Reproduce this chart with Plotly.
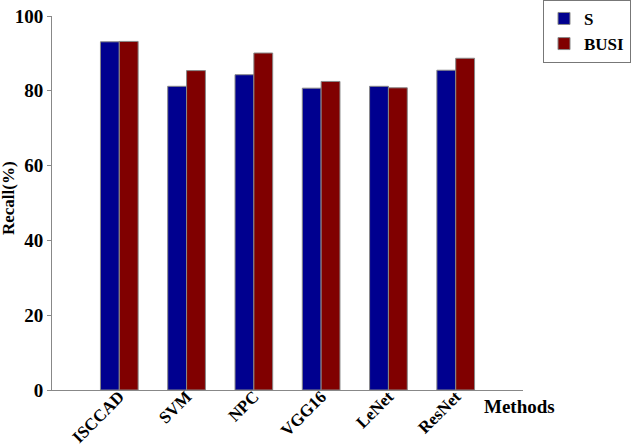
import plotly.graph_objects as go

methods = ["ISCCAD", "SVM", "NPC", "VGG16", "LeNet", "ResNet"]
s_vals = [93.1, 81.2, 84.3, 80.7, 81.2, 85.5]
busi_vals = [93.2, 85.4, 90.1, 82.5, 80.8, 88.7]
y_ticks = [0, 20, 40, 60, 80, 100]

FONT = "Liberation Serif, Times New Roman, serif"

fig = go.Figure()
fig.add_trace(go.Bar(x=list(range(len(methods))), y=s_vals, name="S",
                     marker=dict(color="#00008F", line=dict(color="#888888", width=1)),
                     width=0.28, offset=-0.28))
fig.add_trace(go.Bar(x=list(range(len(methods))), y=busi_vals, name="BUSI",
                     marker=dict(color="#800000", line=dict(color="#888888", width=1)),
                     width=0.28, offset=0.0))

fig.update_layout(
    width=633, height=448,
    margin=dict(l=52, r=110, t=16, b=58, autoexpand=False),
    plot_bgcolor="white", paper_bgcolor="white",
    font=dict(family=FONT, size=19, color="black", weight="bold"),
    showlegend=True,
    legend=dict(x=(631-52)/471, y=1.043, xanchor="right", yanchor="top",
                bordercolor="#777777", borderwidth=1,
                font=dict(family=FONT, size=17, weight="bold"),
                tracegroupgap=0, itemwidth=30),
    xaxis=dict(range=[-1, 6], tickmode="array", automargin=False,
               tickvals=list(range(len(methods))), ticktext=methods,
               tickangle=-45, showline=True, linecolor="#888888", linewidth=1,
               ticks="", showgrid=False, zeroline=False, ticklabelstandoff=-11,
               tickfont=dict(family=FONT, size=17, weight="bold")),
    yaxis=dict(range=[0, 100], tickvals=y_ticks, showline=True, automargin=False,
               linecolor="#888888", linewidth=1, ticks="outside", ticklen=4,
               tickcolor="#888888", showgrid=False, zeroline=False,
               tickfont=dict(family=FONT, size=19, weight="bold")),
    annotations=[
        dict(text="Methods", xref="paper", yref="paper",
             x=0.914, y=-0.043, xanchor="left", yanchor="middle",
             showarrow=False, font=dict(family=FONT, size=19, weight="bold")),
        dict(text="Recall(%)", xref="paper", yref="paper",
             x=-52/471 + 9/471, y=(390-198)/374, xanchor="center", yanchor="middle",
             textangle=-90, showarrow=False,
             font=dict(family=FONT, size=17, weight="bold")),
    ],
)

fig.write_html("out.html")
